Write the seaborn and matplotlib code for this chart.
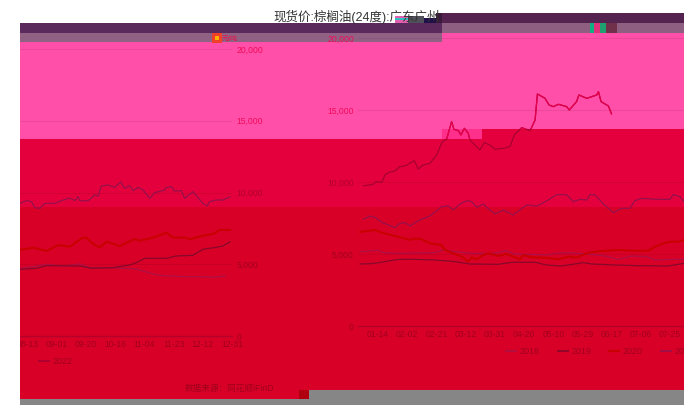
import matplotlib
matplotlib.use('Agg')
import matplotlib.pyplot as plt
import pandas as pd
import seaborn as sns
from matplotlib.patches import Rectangle

# x values are positions along the category axis: 0 = 01-14, 1 = 02-02, ...
tick_labels = ['01-14', '02-02', '02-21', '03-12', '03-31', '04-20', '05-10', '05-29', '06-17', '07-06',
               '07-25', '08-13', '09-01', '09-20', '10-16', '11-04', '11-23', '12-12', '12-31']

x_2018 = [-0.62, 0.01, 0.18, 0.70, 1.95, 2.24, 2.64, 3.21, 4.01, 4.35, 4.69, 5.83, 6.06, 6.52, 7.20, 7.77, 8.23,
          8.69, 9.20, 9.49, 10.06, 10.48, 10.73, 11.18, 11.64, 12.21, 12.78, 13.12, 13.92, 14.26, 14.72, 15.29,
          15.63, 16.32, 17.00, 17.35, 17.77]
y_2018 = [5162, 5255, 5093, 5047, 5093, 5279, 5162, 5047, 5047, 5232, 5001, 4931, 5047, 5093, 5001, 4862, 4630,
          4862, 4816, 4584, 4630, 4630, 4716, 4832, 4994, 4878, 5018, 4762, 4762, 4716, 4669, 4321,
          4205, 4135, 4135, 4089, 4182]

x_2019 = [-0.62, -0.22, 0.01, 0.70, 1.21, 1.95, 2.64, 3.15, 4.12, 4.58, 5.38, 5.78, 6.29, 7.03, 7.32, 8.12, 8.92,
          9.94, 10.48, 10.73, 11.30, 11.64, 12.78, 13.18, 13.92, 14.49, 14.72, 15.01, 15.75, 16.09, 16.66, 17.00,
          17.46, 17.69, 17.94]
y_2019 = [4306, 4329, 4398, 4630, 4630, 4584, 4468, 4306, 4283, 4422, 4422, 4236, 4167, 4398, 4306, 4236, 4190,
          4167, 4352, 4646, 4716, 4902, 4878, 4716, 4762, 4948, 5111, 5413, 5413, 5576, 5622, 6040,
          6179, 6272, 6574]

x_2020 = [-0.62, -0.10, 0.13, 0.58, 1.10, 1.27, 1.50, 1.78, 2.16, 2.29, 2.64, 2.87, 3.09, 3.21, 3.38, 3.61, 3.78,
          4.12, 4.41, 4.86, 4.98, 5.26, 5.72, 6.18, 6.52, 6.80, 7.20, 7.55, 8.17, 8.63, 9.26, 9.49, 9.77, 10.0,
          10.29, 10.48, 10.73, 11.18, 11.64, 12.04, 12.44, 12.84, 13.01, 13.24, 13.47, 13.70, 14.15, 14.66, 14.84,
          15.29, 15.75, 15.98, 16.38, 16.55, 17.00, 17.35, 17.58, 17.94]
y_2020 = [6528, 6667, 6482, 6251, 5973, 6089, 6019, 5741, 5626, 5279, 5001, 4816, 4468, 4769, 4630, 4931, 5047,
          4862, 5001, 4630, 4931, 4769, 4746, 4630, 4816, 4746, 5093, 5186, 5279, 5232, 5232, 5510, 5741, 5857,
          5857, 5973, 5993, 6156, 5923, 6342, 6226, 6806, 6853, 6412, 6179, 6574, 6272, 6760, 6644,
          6853, 7201, 6853, 6876, 6737, 6992, 7109, 7388, 7388]

x_2021 = [-0.50, -0.27, -0.10, 0.13, 0.58, 0.75, 0.92, 1.10, 1.38, 1.78, 2.18, 2.41, 2.58, 2.81, 3.04, 3.21, 3.38,
          3.61, 3.72, 4.01, 4.29, 4.63, 4.86, 5.09, 5.44, 5.83, 6.12, 6.46, 6.69, 6.92, 7.15, 7.26, 7.43, 7.72,
          8.06, 8.34, 8.63, 8.80, 9.03, 9.54, 10.0, 10.11, 10.34, 10.48, 10.73, 10.95, 11.13, 11.24, 11.41, 11.58,
          11.92, 12.15, 12.44, 12.61, 12.72, 12.78, 13.07, 13.29, 13.41, 13.52, 13.75, 13.98, 14.18, 14.32, 14.49,
          14.61, 14.78, 14.95, 15.18, 15.35, 15.69, 15.75, 15.92, 16.03, 16.26, 16.38, 16.66, 17.00, 17.15, 17.23,
          17.46, 17.69, 17.94]
y_2021 = [7408, 7640, 7547, 7200, 6830, 7130, 7177, 6945, 7315, 7640, 8288, 8334, 8056, 8473, 8704, 8635, 8241,
          8473, 8241, 7779, 8056, 7709, 8056, 8403, 8334, 8750, 9121, 9121, 8635, 8797, 8750, 9121, 9121, 8473,
          7871, 8172, 8172, 8704, 8866, 8797, 8797, 9121, 8982, 8635, 9246, 9431, 9362, 8943, 8897, 9246,
          9246, 9431, 9617, 9431, 9710, 9431, 9431, 9826, 9756, 10454, 10524, 10361, 10733, 10291, 10477,
          10129, 10361, 10175, 9594, 9989, 10175, 10361, 10408, 10106, 10129, 9594, 10059, 9245, 9060, 9361,
          9477, 9477, 9710]

x_2022 = [-0.50, -0.39, -0.16, -0.08, 0.13, 0.24, 0.35, 0.58, 0.75, 0.92, 1.24, 1.38, 1.55, 1.78, 2.01, 2.20, 2.35,
          2.44, 2.52, 2.60, 2.75, 2.84, 2.96, 3.09, 3.15, 3.49, 3.64, 3.84, 4.01, 4.29, 4.52, 4.67, 4.92, 5.21,
          5.38, 5.46, 5.72, 5.86, 6.00, 6.18, 6.46, 6.55, 6.80, 6.88, 7.15, 7.49, 7.55, 7.64, 7.89, 8.00]
y_2022 = [9723, 9769, 9839, 10024, 9978, 10487, 10649, 10765, 11066, 11112, 11482, 10904, 11181, 11297, 11876,
          12802, 12964, 13612, 14191, 13658, 13566, 13265, 13728, 13381, 12918, 12223, 12733, 12570, 12270, 12339,
          12455, 13265, 13774, 13566, 14307, 16112, 15811, 15348, 15233, 15395, 15233, 15001, 15580, 16043, 15811,
          16043, 16274, 15580, 15279, 14723]

y_ticks = [0, 5000, 10000, 15000, 20000]
tick_colors = ['#a0001c', '#a0001c', '#b0002a', '#f00a58', '#f00a58']
palette = {'2018': '#ac1045', '2019': '#86082a', '2020': '#c80000', '2021': '#96104c', '2022': '#a80032'}
color_2022_pink = '#e6004e'

frames = []
for year, xs, ys in [('2018', x_2018, y_2018), ('2019', x_2019, y_2019), ('2020', x_2020, y_2020),
                     ('2021', x_2021, y_2021), ('2022', x_2022, y_2022)]:
    frames.append(pd.DataFrame({'x': xs, 'price': ys, 'year': year}))
df = pd.concat(frames)

sns.set_style('white')
plt.rcParams['font.family'] = ['Liberation Sans', 'Noto Sans CJK SC', 'DejaVu Sans']

W, H = 684, 420
fig = plt.figure(figsize=(W / 100, H / 100), dpi=100)


def px_axes(x0, x1, y_top, y_bottom):
    return fig.add_axes([x0 / W, 1 - y_bottom / H, (x1 - x0) / W, (y_bottom - y_top) / H], facecolor='none')


# the broken image bands sit behind everything, in pixel coordinates
bg = fig.add_axes([0, 0, 1, 1], zorder=-1)
bg.set_xlim(0, W)
bg.set_ylim(H, 0)
bg.axis('off')


def block(ax, x0, x1, y0, y1, color):
    ax.add_patch(Rectangle((x0, y0), x1 - x0, y1 - y0, color=color, lw=0))


block(bg, 20, 442, 23, 33, '#5b2a5c')
block(bg, 20, 442, 33, 42, '#916184')
block(bg, 442, 684, 13, 23, '#54234f')
block(bg, 442, 684, 23, 33, '#8f5f82')
block(bg, 20, 442, 42, 139, '#ff4fa8')
block(bg, 442, 684, 33, 129, '#ff4fa8')
block(bg, 442, 482, 129, 139, '#ff2f8c')
block(bg, 20, 684, 139, 207, '#e4003c')
block(bg, 482, 684, 129, 139, '#e4003c')
block(bg, 20, 684, 207, 399, '#d90028')
block(bg, 20, 309, 399, 405, '#868686')
block(bg, 309, 684, 390, 405, '#868686')
block(bg, 299, 309, 390, 399, '#b00010')
# glitches
block(bg, 212, 222, 33, 43, '#f0402a')
block(bg, 215, 219, 36, 40, '#ffb000')
block(bg, 590, 594, 23, 33, '#10b080')
block(bg, 594, 600, 23, 33, '#e0307a')
block(bg, 600, 606, 23, 33, '#20a070')
block(bg, 606, 617, 23, 33, '#70304a')

ax_left = px_axes(20, 232, 49, 336)
ax_right = px_axes(358, 684, 38, 326)

for ax in (ax_left, ax_right):
    sns.lineplot(data=df[df['year'] != '2020'], x='x', y='price', hue='year', palette=palette, estimator=None,
                 sort=False, legend=False, ax=ax, lw=0.9)
    sns.lineplot(data=df[df['year'] == '2020'], x='x', y='price', color=palette['2020'], estimator=None,
                 sort=False, legend=False, ax=ax, lw=1.5)
    ax.set_ylim(0, 20000)
    ax.set_yticks(y_ticks)
    ax.set_yticklabels([f'{v:,}' for v in y_ticks], fontsize=6.2)
    ax.set_xlabel('')
    ax.set_ylabel('')
    ax.grid(axis='y', color='black', alpha=0.07, lw=0.8)
    ax.grid(axis='x', visible=False)
    for side in ('top', 'left', 'right'):
        ax.spines[side].set_visible(False)
    ax.spines['bottom'].set_color('#b5002a')
    ax.spines['bottom'].set_linewidth(1.0)

ax_left.set_xlim(10.73, 17.99)
ax_left.set_xticks(range(11, 19))
ax_left.set_xticklabels(tick_labels[11:], fontsize=6.2, color='#a0001c')
ax_left.yaxis.tick_right()
ax_left.tick_params(axis='both', length=0, pad=3)
for tick, c in zip(ax_left.yaxis.get_major_ticks(), tick_colors):
    tick.label2.set_color(c)

ax_right.set_xlim(-0.685, 10.48)
ax_right.set_xticks(range(0, 11))
ax_right.set_xticklabels(tick_labels[:11], fontsize=6.2, color='#a0001c')
ax_right.tick_params(axis='both', length=0, pad=3)
for tick, c in zip(ax_right.yaxis.get_major_ticks(), tick_colors):
    tick.label1.set_color(c)

# the 2022 line looks brighter where it crosses the pink band
df_2022 = df[df['year'] == '2022']
for x0, x1, y1 in [(358, 482, 139), (482, 684, 129)]:
    sns.lineplot(data=df_2022, x='x', y='price', color=color_2022_pink, estimator=None, sort=False,
                 legend=False, ax=ax_right, lw=0.9)
    ax_right.lines[-1].set_clip_path(Rectangle((x0, 33), x1 - x0, y1 - 33, transform=bg.transData))
ax_right.set_xlabel('')
ax_right.set_ylabel('')

# texts in the overlay
top = fig.add_axes([0, 0, 1, 1], zorder=5, facecolor='none')
top.set_xlim(0, W)
top.set_ylim(H, 0)
top.axis('off')
top.text(356.5, 17, '现货价:棕榈油(24度):广东广州', fontsize=9, color='#333333', ha='center', va='center')
block(top, 395, 408, 16, 23, '#e060b0')
block(top, 395, 408, 18, 20, '#30c0c0')
block(top, 408, 424, 16, 23, '#50505a')
block(top, 424, 436, 18, 23, '#20104a')
block(top, 436, 442, 13, 23, '#3a1a3a')
top.text(222, 39.5, '元/吨', fontsize=5, color='#e8104a', ha='left', va='center')
top.text(185, 388, '数据来源：同花顺iFinD', fontsize=6.2, color='#a0001c', ha='left', va='center')

legend_items = [('2018', 505, 351), ('2019', 557, 351), ('2020', 608, 351), ('2021', 660, 351), ('2022', 38, 361)]
for year, x0, y0 in legend_items:
    top.plot([x0, x0 + 12], [y0, y0], color=palette[year], lw=1.6 if year == '2020' else 1.2, solid_capstyle='butt')
    top.text(x0 + 15, y0, year, fontsize=6.5, color='#a0001c', ha='left', va='center')

# white margin left of the picture clips the first tick label
fig.add_artist(Rectangle((0, 0), 20 / W, 1, transform=fig.transFigure, color='white', lw=0, zorder=10))

fig.savefig('out.png', dpi=100)
